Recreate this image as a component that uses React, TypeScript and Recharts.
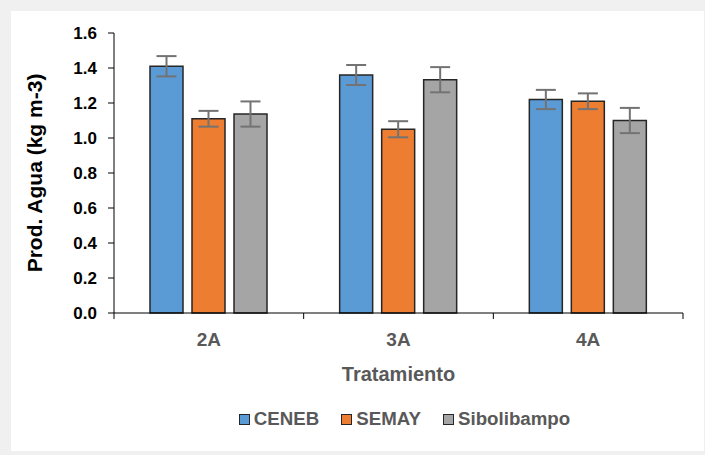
import React from 'react';
import { BarChart, Bar, XAxis, YAxis, ErrorBar } from 'recharts';

const CATEGORIES = ['2A', '3A', '4A'];
const CENEB = [1.41, 1.36, 1.22];
const CENEB_ERR = [0.058, 0.057, 0.055];
const SEMAY = [1.11, 1.05, 1.21];
const SEMAY_ERR = [0.045, 0.046, 0.045];
const SIBOLIBAMPO = [1.137, 1.333, 1.1];
const SIBOLIBAMPO_ERR = [0.072, 0.072, 0.072];
const Y_TICKS = [0, 0.2, 0.4, 0.6, 0.8, 1.0, 1.2, 1.4, 1.6];

const SERIES = [
  { key: 'ceneb', label: 'CENEB', color: '#5b9bd5' },
  { key: 'semay', label: 'SEMAY', color: '#ed7d31' },
  { key: 'sibo', label: 'Sibolibampo', color: '#a5a5a5' },
];

const data = CATEGORIES.map((name, i) => ({
  name,
  ceneb: CENEB[i],
  cenebErr: CENEB_ERR[i],
  semay: SEMAY[i],
  semayErr: SEMAY_ERR[i],
  sibo: SIBOLIBAMPO[i],
  siboErr: SIBOLIBAMPO_ERR[i],
}));

const W = 705;
const H = 455;
const MARGIN = { top: 33, right: 22, bottom: 72, left: 0 };
const Y_AXIS_W = 114;
const FONT = '"Liberation Sans", Arial, sans-serif';
const BAND = (W - MARGIN.left - MARGIN.right - Y_AXIS_W) / CATEGORIES.length;

// category label + tick marks on the group boundaries (Excel style)
const CategoryTick = (props: any) => {
  const { x, y, payload, index } = props;
  const axisY = y - 8;
  const last = index === CATEGORIES.length - 1;
  return (
    <g>
      <line x1={x - BAND / 2} x2={x - BAND / 2} y1={axisY} y2={axisY + 6} stroke="#000" strokeWidth={1} />
      {last && <line x1={x + BAND / 2} x2={x + BAND / 2} y1={axisY} y2={axisY + 6} stroke="#000" strokeWidth={1} />}
      <text x={x} y={axisY + 33} textAnchor="middle" fill="#595959" fontSize={19} fontWeight="bold" fontFamily={FONT}>
        {payload.value}
      </text>
    </g>
  );
};

export default function App() {
  return (
    <div style={{ position: 'absolute', left: 0, top: 0, width: W, height: H, background: '#f0f0f0', fontFamily: FONT }}>
      <div style={{ position: 'absolute', left: 11, top: 11, width: 693, height: 440, background: '#ffffff' }} />
      <div style={{ position: 'absolute', left: 0, top: 0 }}>
        <BarChart width={W} height={H} data={data} margin={MARGIN} barSize={33} barGap={9}>
          <XAxis
            dataKey="name"
            axisLine={{ stroke: '#000', strokeWidth: 1 }}
            tickLine={false}
            tick={<CategoryTick />}
            height={70}
            interval={0}
            label={{
              value: 'Tratamiento',
              position: 'insideBottom',
              offset: 2,
              style: { fill: '#595959', fontSize: 20, fontWeight: 'bold', fontFamily: FONT },
            }}
          />
          <YAxis
            width={Y_AXIS_W}
            domain={[0, 1.6]}
            ticks={Y_TICKS}
            interval={0}
            tickFormatter={(v) => Number(v).toFixed(1)}
            axisLine={{ stroke: '#000', strokeWidth: 1 }}
            tickLine={{ stroke: '#000', strokeWidth: 1 }}
            tickSize={6}
            tickMargin={11}
            tick={{ fill: '#000', fontSize: 17, fontWeight: 'bold', fontFamily: FONT }}
            label={{
              value: 'Prod. Agua (kg m-3)',
              angle: -90,
              position: 'insideLeft',
              offset: 35,
              style: { textAnchor: 'middle', fill: '#000', fontSize: 21, fontWeight: 'bold', fontFamily: FONT },
            }}
          />
          {SERIES.map((s) => (
            <Bar key={s.key} dataKey={s.key} fill={s.color} stroke="#262626" strokeWidth={1.5} isAnimationActive={false}>
              <ErrorBar dataKey={`${s.key}Err`} width={10} stroke="#737373" strokeWidth={2} />
            </Bar>
          ))}
        </BarChart>
      </div>
      <div
        style={{
          position: 'absolute',
          top: 408,
          left: 120,
          width: 569,
          display: 'flex',
          justifyContent: 'center',
          gap: 22,
          fontSize: 18.7,
          fontWeight: 'bold',
          color: '#595959',
          lineHeight: '22px',
        }}
      >
        {SERIES.map((s) => (
          <div key={s.key} style={{ display: 'flex', alignItems: 'center' }}>
            <span
              style={{
                display: 'inline-block',
                width: 9,
                height: 9,
                background: s.color,
                border: '1.5px solid #262626',
                marginRight: 4,
              }}
            />
            {s.label}
          </div>
        ))}
      </div>
    </div>
  );
}
